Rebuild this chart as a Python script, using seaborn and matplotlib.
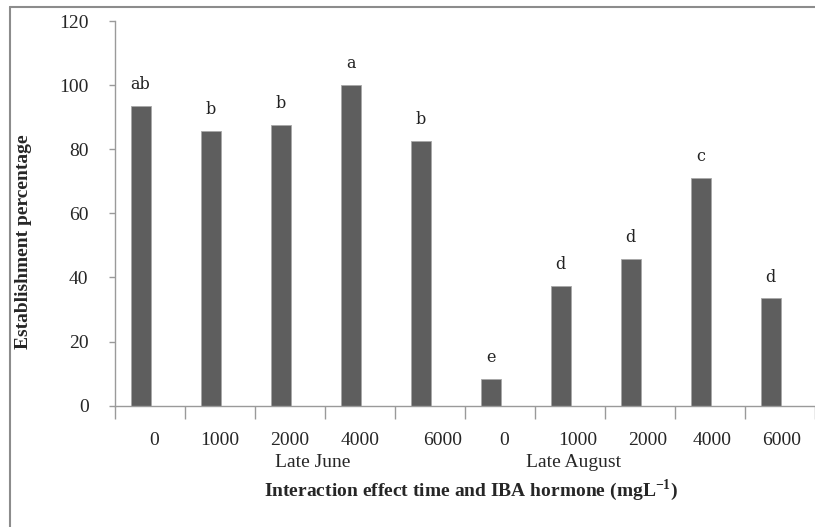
import numpy as np
import pandas as pd
import matplotlib
matplotlib.use("Agg")
import matplotlib.pyplot as plt
import matplotlib.transforms as mtransforms
from matplotlib.lines import Line2D
import seaborn as sns

# ── Dados ─────────────────────────────────────────────────────
doses = ["0", "1000", "2000", "4000", "6000", "0", "1000", "2000", "4000", "6000"]
periods = ["Late June"] * 5 + ["Late August"] * 5
establishment = [93.6, 85.7, 87.7, 100.0, 82.7, 8.3, 37.3, 45.9, 71.1, 33.5]
letters = ["ab", "b", "b", "a", "b", "e", "d", "d", "c", "d"]
group_names = ["Late June", "Late August"]

df = pd.DataFrame({
    "cat": [f"{p} {d}" for p, d in zip(periods, doses)],
    "value": establishment,
})

# ── Estilo ────────────────────────────────────────────────────
sns.set_style("white")
plt.rcParams["font.family"] = ["Liberation Serif", "DejaVu Serif"]
plt.rcParams["mathtext.fontset"] = "custom"
plt.rcParams["mathtext.rm"] = "Liberation Serif"
plt.rcParams["mathtext.bf"] = "Liberation Serif:bold"

AXCOL = "#9a9a9a"
BARCOL = "#5e5e5e"

fig = plt.figure(figsize=(8.15, 5.27), dpi=100)
W, H = 815, 527
ax = fig.add_axes([115 / W, (H - 405.7) / H, 700 / W, 384.7 / H])

sns.barplot(data=df, x="cat", y="value", ax=ax, color=BARCOL,
            width=0.285, edgecolor="#a8a8a8", linewidth=0.6,
            errorbar=None, saturation=1)

slot = 70.3
shift = 0.366
ax.set_xlim(-shift, -shift + 700 / slot)
ax.set_ylim(0, 120)

# eixo y
ax.set_yticks(np.arange(0, 121, 20))
ax.tick_params(axis="y", which="major", direction="out", length=4,
               width=1, color=AXCOL, pad=15, labelsize=14, left=True)

# eixo x: marcas entre categorias, rótulos no centro
n = len(doses)
ax.set_xticks(np.arange(n + 1) - shift)
ax.set_xticklabels([])
ax.set_xticks(np.arange(n) - shift + 0.5, minor=True)
ax.set_xticklabels(doses, minor=True)
ax.tick_params(axis="x", which="major", direction="out", length=9,
               width=1, color=AXCOL, bottom=True)
ax.tick_params(axis="x", which="minor", length=0, pad=19, labelsize=14)

# pequenos deslocamentos dos rótulos (como no original, em pixels)
label_dx = [4, 0, 0, 0, 13, 4, 8, 8, 2, 2]
for lab, dx in zip(ax.get_xticklabels(minor=True), label_dx):
    lab.set_transform(lab.get_transform() +
                      mtransforms.ScaledTranslation(dx / 100, 0, fig.dpi_scale_trans))

for s in ["top", "right"]:
    ax.spines[s].set_visible(False)
for s in ["left", "bottom"]:
    ax.spines[s].set_color(AXCOL)
    ax.spines[s].set_linewidth(1)

# letras de significância
for i, (v, l) in enumerate(zip(establishment, letters)):
    ax.text(i, v + 6.6, l, ha="center", va="center", fontsize=11.5,
            family="DejaVu Serif", color="#222222")

# rótulos dos grupos
trans = mtransforms.blended_transform_factory(ax.transData, ax.transAxes)
for gx, g in zip([2.465, 6.19], group_names):
    ax.text(gx, -0.148, g, transform=trans, ha="center", va="center",
            fontsize=14)

ax.set_xlabel(r"Interaction effect time and IBA hormone (mgL$^{\mathbf{-1}}$)",
              fontsize=14, fontweight="bold")
ax.xaxis.set_label_coords(0.509, -0.219)
ax.xaxis.label.set_va("center")
ax.set_ylabel("Establishment percentage", fontsize=14, fontweight="bold")
ax.yaxis.set_label_coords(-0.13, 0.4255)
ax.yaxis.label.set_va("center")

# moldura
fig.add_artist(Line2D([10 / W, 10 / W], [0, 1 - 7 / H], color="#8c8c8c",
                      lw=1.5, transform=fig.transFigure))
fig.add_artist(Line2D([10 / W, 1], [1 - 7 / H, 1 - 7 / H], color="#8c8c8c",
                      lw=1.5, transform=fig.transFigure))

fig.savefig("out.png", dpi=100, facecolor="white")
